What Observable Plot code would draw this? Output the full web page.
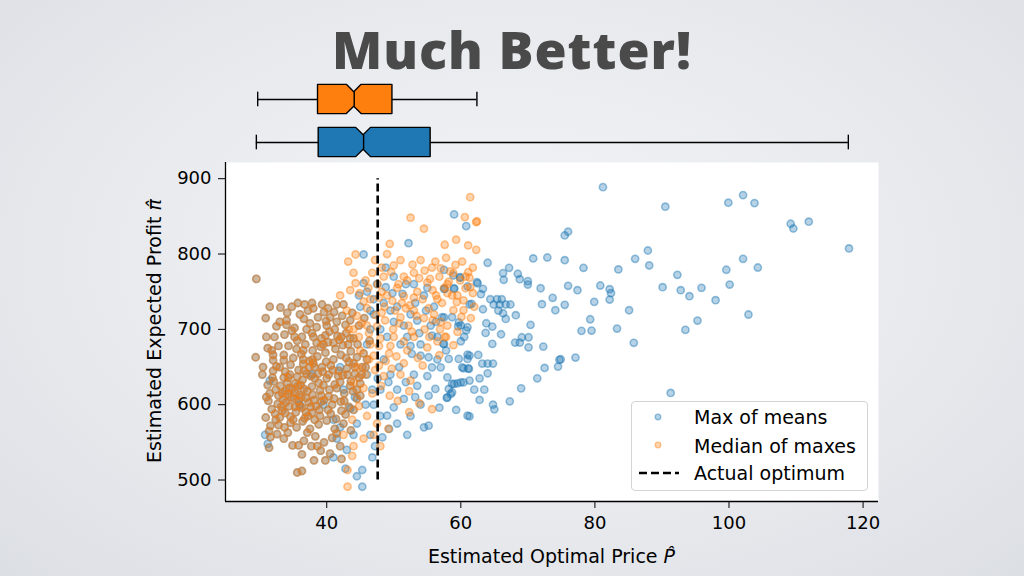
<!DOCTYPE html>
<html>
<head>
<meta charset="utf-8">
<script src="https://cdn.jsdelivr.net/npm/d3@7"></script>
<script src="https://cdn.jsdelivr.net/npm/@observablehq/plot@0.6"></script>
<style>
  html, body { margin: 0; padding: 0; }
  body {
    width: 1024px; height: 576px; overflow: hidden;
    background: radial-gradient(ellipse at 50% 45%, #f3f4f6 0%, #e7e9ed 60%, #dcdfe4 100%);
    font-family: "DejaVu Sans", sans-serif;
  }
  #root { position: relative; width: 1024px; height: 576px; }
  #title {
    position: absolute; left: 0; top: 18px; width: 1024px; text-align: center;
    font-family: "Open Sans", sans-serif; font-weight: 800; font-size: 52px; line-height: 1.2;
    color: #4a4a4a; letter-spacing: 1px;
  }
  #boxes { position: absolute; left: 0; top: 62px; }
  #scatter { position: absolute; left: 0; top: 150px; }
  .axlabel { position: absolute; font-size: 19px; color: #000; white-space: nowrap; line-height: 22px; }
  #xlabel { left: 225px; width: 653px; top: 545px; text-align: center; }
  #ylabel { left: 154px; top: 331px; transform: translate(-50%, -50%) rotate(-90deg); }
  #legend {
    position: absolute; left: 631px; top: 401px; width: 237px; height: 90px; box-sizing: border-box;
    background: rgba(255,255,255,0.85); border: 1px solid #d4d4d4; border-radius: 4px;
  }
  #legend .item { position: absolute; left: 62px; font-size: 19px; line-height: 22px; white-space: nowrap; color: #000; }
  #legend svg { position: absolute; left: 0; top: 0; }
  svg { overflow: visible; }
</style>
</head>
<body>
<div id="root">
  <div id="title">Much Better!</div>
  <div id="boxes"></div>
  <div id="scatter"></div>
  <div class="axlabel" id="xlabel">Estimated Optimal Price <i>P&#770;</i></div>
  <div class="axlabel" id="ylabel">Estimated Expected Profit <i>&#960;&#770;</i></div>
  <div id="legend"></div>
</div>
<script>
// ---------- scales / ticks ----------
const xDomain = [24.9, 122.3];
const yDomain = [471.5, 921.5];
const xTicks = [40, 60, 80, 100, 120];
const yTicks = [500, 600, 700, 800, 900];
const optimumPrice = 47.6;
const optimumSpan = [500, 900];

// ---------- series names / colours ----------
const seriesNames = ["Max of means", "Median of maxes", "Actual optimum"];
const meansColor = "#1f77b4";
const maxesColor = "#ff7f0e";

// ---------- box plot statistics ----------
const boxSeries = ["Median of maxes", "Max of means"];
const boxPositions = [2, 1];
const boxMin = [29.7, 29.5];
const boxQ1 = [38.7, 38.8];
const boxMedian = [44.1, 45.5];
const boxQ3 = [49.8, 55.5];
const boxMax = [62.4, 117.8];
const boxCiLo = [43.0, 44.4];
const boxCiHi = [45.2, 46.6];
const boxFill = [maxesColor, meansColor];

// ---------- scatter points (price, profit) ----------
// points where both estimators coincide (drawn in both series)
const sharedXY = [
[29.5,767],[30.9,715],[33.1,729],[34.1,722],[35.7,735],[36.6,714],[36.7,733],[39.3,733],[41.5,733],[42.5,733],[39.6,723],[41.1,723],[38.0,728],[40.5,716],
[34.0,712],[34.0,706],[37.5,708],[38.5,703],[40.0,705],[41.5,710],[42.8,706],[43.5,712],[35.2,702],[32.5,704],
[33.7,693],[35.6,685],[36.3,690],[37.8,695],[39.2,688],[40.4,697],[41.6,691],[42.9,695],[44.0,688],[38.5,682],[34.8,698],
[32.8,678],[34.3,678],[35.5,674],[36.8,680],[37.9,672],[39.1,677],[40.2,683],[41.3,674],[42.4,679],[43.6,671],[44.6,680],[31.8,672],
[29.4,663],[32.0,666],[33.6,666],[32.0,659],[33.6,659],[35.0,662],[36.2,667],[37.4,658],[38.6,664],[39.8,669],[41.0,660],[42.1,666],[43.3,657],[44.5,663],[45.5,668],
[32.5,651],[34.6,653],[33.8,644],[30.4,640],[35.8,646],[37.0,641],[38.2,650],[39.4,644],[40.6,652],[41.8,645],[43.0,648],[44.2,641],[36.5,654],[45.3,650],
[31.9,636],[32.1,631],[33.6,636],[34.3,636],[35.3,628],[36.4,633],[37.6,638],[38.8,629],[40.0,635],[41.2,627],[42.4,639],[43.6,631],[44.8,636],[39.5,626],
[31.5,615],[32.8,612],[33.8,618],[34.7,610],[35.3,616],[36.6,621],[37.9,613],[39.0,619],[40.3,611],[41.5,622],[42.6,615],[43.9,618],[45.0,612],
[31.3,605],[32.7,601],[33.5,607],[34.4,598],[35.8,605],[36.3,596],[37.3,603],[38.4,598],[39.6,606],[40.8,600],[42.1,604],[43.3,597],[44.5,608],
[30.9,583],[32.3,588],[33.4,592],[34.6,584],[35.4,590],[36.7,582],[37.8,589],[39.0,585],[40.2,593],[41.4,581],[42.8,587],[44.0,593],
[31.6,572],[32.8,573],[31.4,565],[34.6,576],[35.5,570],[36.4,578],[37.5,568],[38.8,574],[40.0,579],[41.2,568],[42.5,575],[43.6,566],
[32.6,561],[31.6,557],[31.4,543],[34.9,546],[35.8,546],[37.1,563],[36.6,552],[38.3,558],[39.6,550],[40.8,556],[42.0,545],[39.1,539],[41.5,562],
[36.3,534],[35.6,510],[36.3,512],[38.1,526],[39.8,526],[40.5,535],[42.2,528],
[32.4,620],[33.1,625],[33.9,603],[34.1,629],[34.9,621],[35.1,608],[35.9,613],[36.1,626],[36.9,609],[37.1,618],[37.8,624],[38.1,606],[38.7,641],[39.2,612],
[33.2,597],[33.8,589],[34.2,614],[35.6,637],[36.6,645],[37.4,650],[38.2,635],[39.9,657],[40.9,646],[41.7,638],[42.9,662],[40.4,620],[41.1,608],[38.9,593],
[37.2,585],[35.0,580],[33.0,583],[36.0,598],[34.5,640],[33.0,650],[32.0,645],[31.2,626],[31.0,610],[31.8,594],[37.9,660],[36.5,672],[39.5,680],[41.9,686],
[43.2,680],[44.2,650],[43.5,625],[42.6,605],[44.5,620],[45.2,640],[46.0,660],[46.4,685],
[36.0,720],[37.2,725],[38.7,716],[39.9,711],[41.2,700],[42.3,718],[43.8,722],[44.8,705],[45.6,715],[37.0,700],[38.0,690],[39.8,692],[41.0,682],
[42.2,690],[43.5,688],[35.2,690],[36.5,660],[38.0,655],[39.3,650],[40.3,640],[42.0,630],[43.1,640],[44.0,655],[45.0,628],[45.8,650],[32.2,690],
[31.0,690],[30.5,650],[31.2,675],[33.0,710],[31.5,730],[34.8,730],[37.8,735],[40.2,728],[35.7,625],[34.4,622],[33.4,615],[36.2,610],[37.6,597],
[39.2,604],[36.9,590],[35.3,597],[32.4,580],[33.7,570],[38.2,580],[40.6,588],[42.2,592],[37.7,545],[38.6,545],[33.6,555],[34.2,563]
];

// "Max of means" only
const meansOnlyXY = [
[81.2,888.8],[90.5,862.8],[99.9,868.1],[102.1,878.2],[103.8,867.6],[109.2,840.2],[109.6,833.9],[111.9,842.9],[117.9,807.4],
[75.5,824.7],[76.0,829.6],[75.5,791.8],[78.3,781.7],[83.5,779.5],[86.0,793.7],[87.9,804.7],[88.1,784.8],[76.0,757.8],[77.4,752.0],
[80.8,758.2],[82.2,753.3],[82.4,748.0],[82.2,739.6],[79.9,736.5],[75.5,732.6],[79.3,713.4],[78.0,698.0],[79.5,698.4],[83.3,701.1],
[85.1,725.4],[85.8,682.1],[77.1,662.5],[74.9,660.3],[90.1,756.0],[92.3,772.4],[92.8,752.0],[94.1,744.0],[95.9,755.1],[93.5,699.3],
[95.3,711.7],[98.0,738.7],[99.6,779.1],[102.1,793.7],[104.3,782.1],[100.1,759.5],[102.9,719.7],[91.3,615.6],
[59.0,852.6],[60.8,837],[64.0,788.4],[67.2,781.7],[66.3,774.6],[66.4,765.8],[68.5,773.8],[68.8,766.6],[70.0,764],[70.0,759.5],
[70.8,794.1],[72.9,795.4],[71.9,754.6],[73.7,741.9],[72.1,733.4],[74.1,725.4],[62.5,761],[63.3,753.8],[63.0,746.7],[64.4,740],
[65.4,740],[66.1,740],[64.9,733],[65.8,733],[66.7,733],[67.4,733],[63.3,726.7],[65.6,725],[66.3,721.4],[66.7,713.9],[68.2,718.8],
[63.8,708.1],[64.7,703.7],[63.7,695.3],[66.0,693.5],[70.4,706],[69.1,689.5],[70.1,689.5],[68.8,682.5],[68.1,682.5],[70.1,676.2],
[64.7,680.7],[72.3,677.1],[62.6,666.1],[63.2,654.6],[64.0,654.6],[64.8,654.6],[64.0,641.7],[72.5,648.8],[74.5,650.6],[74.7,659.5],
[71.4,635],[69.0,621.7],[67.3,604.5],[62.8,606.3],[64.8,600],[65.0,593.8],[61.3,584.5],[61.3,632],[60.4,629.7],[59.5,628.4],
[58.7,627.5],[58.2,620.9],[58.5,614.3],[57.9,609],[60.4,648.3],[61.1,648.3],[61.0,666.5],[61.3,665.2],
[60.0,684.2],[60.5,690],[60.8,698.6],[59.6,703.9],[60.0,705.2],[61.3,733],[61.6,733.9],[57.4,680.7],[57.5,716],[57.5,753.8],
[59.9,769.2],[59.0,754.6],[62.4,762.6],
[57.5,779],[58.9,771.5],[59.9,768.5],[57.6,753.8],[59.0,753.8],[61.0,756.9],[48.8,756],[51.3,747.2],[52.2,814.4],[51.5,705],
[53.5,711.7],[55.7,691.8],[57.5,680.7],[58.7,716.1],[57.2,716.1],[59.7,709.4],[61.0,702.8],[52.7,667.4],[54.0,665.2],[55.2,663],
[58.2,660.8],[59.7,660.8],[61.0,660.8],[55.7,649.6],[57.0,649.6],[58.0,636.4],[59.0,627.6],[60.0,629.7],[60.2,649.6],[61.2,647.5],
[56.2,621],[55.2,612],[58.0,609.8],[58.7,616.4],[61.0,585.4],[55.2,572.2],[49.0,585.4],[49.3,567.8],[48.3,556.6],[50.0,596.5],[51.5,607.6],
[45.5,799.4],[45.5,761.3],[45.3,513.3],[45.3,491.1],[46.0,750],[47.0,740],[44.0,560],[42.0,570],[41.5,555],[43.0,540],
[46.5,560],[47.2,545],[46.8,530],[44.5,575],[47.0,600],[48.0,620],[46.0,640],[48.5,660],[49.5,640],[50.5,620],
[49.0,690],[50.0,710],[48.0,700],[47.0,720],[46.5,700],[49.5,725],[51.0,680],[52.0,690],[53.0,640],[54.0,680],
[52.5,720],[50.0,770],[53.0,760],[54.5,745],[56.0,730],[55.5,705],[56.5,690],[54.0,600],[52.5,585],[53.5,625],
[31.5,632],[30.8,560],[31.2,548],[36.0,600],[37.8,640],[39.5,600],[41.0,580],[42.5,620],[43.5,595],[44.2,610],
[42.0,650],[41.0,530],[42.8,515],[44.5,505],
[48.5,735],[49.8,748],[50.5,730],[51.8,760],[53.2,735],[54.8,725],[55.0,755],[56.3,710],[53.8,695],[52.5,678],[50.8,650],[49.2,630],
[51.8,630],[53.2,610],[55.0,638],[56.5,660],[57.8,672],[54.5,570],[52.0,560],[50.5,575],[56.8,596],[59.3,593],[62.0,620],[62.8,635],
[63.5,620],[48.0,585],[46.8,620],[45.8,600],[47.6,635],[46.0,680],[46.5,725],[45.0,730],[44.8,745],[47.5,760],[48.8,782]
];

// "Median of maxes" only
const maxesOnlyXY = [
[61.4,875.5],[60.6,849],[62.3,842.3],[62.4,843.5],[57.6,812.3],[59.3,819],[61.1,811.4],[62.3,805.6],[59.2,785.7],[52.5,848.2],
[54.5,833.6],[49.4,813.6],[44.3,799.4],[44.3,761.3],[43.1,513.3],[43.1,491.1],
[42.0,745],[43.5,752],[44.9,748],[46.2,755],[47.8,742],[45.5,737],[43.0,725],[44.5,718],[46.0,728],[47.3,719],[48.6,730],
[49.8,738],[48.2,750],[50.5,755],[51.5,744],[52.4,732],[53.5,750],[54.3,740],[55.2,728],[56.3,745],[57.2,735],[53.0,775],
[50.0,785],[48.5,770],[46.8,775],[47.2,792],[49.0,800],
[44.0,700],[45.2,708],[46.3,695],[47.5,704],[48.7,712],[49.9,700],[51.0,716],[52.2,705],[53.4,718],[54.6,700],[55.8,712],
[56.9,700],[58.0,705],[50.2,725],[51.8,728],[53.0,690],[51.5,684],[49.5,678],[48.0,688],[46.5,680],[45.0,672],[47.0,665],
[48.8,658],[50.4,664],[52.0,672],[53.6,662],[55.0,676],[56.5,684],[57.8,690],[54.3,652],
[44.6,650],[45.8,640],[47.2,646],[48.5,638],[49.7,648],[51.0,640],[52.5,632],[44.0,630],[45.5,622],[46.8,615],[48.1,625],
[49.4,612],[50.6,605],[52.3,618],[53.8,602],[55.7,594],[52.3,590],[49.2,568],[47.5,575],[46.0,585],[44.8,598],[43.8,580],
[42.5,560],[44.0,545],[45.5,555],[47.0,560],[48.0,545],[43.8,532],
[58.9,774.6],[61.1,775.9],[61.3,768.5],[58.2,763.5],[60.7,754.6],[61.4,756],[58.7,745],[59.4,736.3],[60.4,738.5],[58.9,725.4],
[60.4,725.4],[60.1,716.6],[59.5,696.7],[57.6,690],[58.9,679],[56.8,665.7],
[54.6,778],[55.7,782],[57.0,781],[58.4,777],[51.5,770],[52.0,765],[55.4,767],[55.0,762],[58.0,760],[59.9,765],[60.7,770],
[48.2,782],[49.6,776],[51.0,792],[52.8,786],[54.0,792],[56.2,790],[57.8,795],[60.2,790],[61.8,782],[50.7,760],[53.8,768],[56.8,770],
[57.5,755],[55.8,752],[53.0,742],[51.2,735],[49.0,745],[47.6,760],[45.8,765],[44.0,775],[43.2,790],[46.5,740],[48.2,722],[50.8,708],
[53.0,725],[54.5,715],[56.0,720],[57.0,710],[55.3,690],[52.7,697],[50.0,690],[47.8,678],[46.0,705],[44.8,690],[43.3,700],[49.3,668],
[51.5,655],[47.8,652],[46.3,660],[56.5,740],[58.0,748],[59.5,745],[61.8,748],[62.0,730],[61.5,715]
];

// ---------- build series ----------
const meansPts = sharedXY.concat(meansOnlyXY).map(([x, y]) => ({x, y}));
const maxesPts = sharedXY.concat(maxesOnlyXY).map(([x, y]) => ({x, y}));

// ---------- box plot ----------
const boxWidth = 0.68;
const half = boxWidth / 2;
const boxRows = boxSeries.map((s, i) => ({
  series: s, pos: boxPositions[i], min: boxMin[i], q1: boxQ1[i], med: boxMedian[i],
  q3: boxQ3[i], max: boxMax[i], lo: boxCiLo[i], hi: boxCiHi[i], fill: boxFill[i]
}));
function outline(b) {
  return [
    {x: b.q1, y1: b.pos - half, y2: b.pos + half},
    {x: b.lo, y1: b.pos - half, y2: b.pos + half},
    {x: b.med, y1: b.pos - half / 2, y2: b.pos + half / 2},
    {x: b.hi, y1: b.pos - half, y2: b.pos + half},
    {x: b.q3, y1: b.pos - half, y2: b.pos + half}
  ];
}
const boxMarks = [];
for (const b of boxRows) {
  boxMarks.push(Plot.ruleY([b], {y: "pos", x1: "min", x2: "q1", stroke: "black", strokeWidth: 1.4}));
  boxMarks.push(Plot.ruleY([b], {y: "pos", x1: "q3", x2: "max", stroke: "black", strokeWidth: 1.4}));
  boxMarks.push(Plot.ruleX([b], {x: "min", y1: d => d.pos - half / 2, y2: d => d.pos + half / 2, stroke: "black", strokeWidth: 1.4}));
  boxMarks.push(Plot.ruleX([b], {x: "max", y1: d => d.pos - half / 2, y2: d => d.pos + half / 2, stroke: "black", strokeWidth: 1.4}));
  boxMarks.push(Plot.areaY(outline(b), {x: "x", y1: "y1", y2: "y2", fill: b.fill, stroke: "black", strokeWidth: 1.4}));
  boxMarks.push(Plot.ruleX([b], {x: "med", y1: d => d.pos - half / 2, y2: d => d.pos + half / 2, stroke: "black", strokeWidth: 1.4}));
}
const boxPlot = Plot.plot({
  width: 1024, height: 100,
  marginLeft: 225, marginRight: 146, marginTop: 0, marginBottom: 0,
  x: {domain: xDomain, axis: null},
  y: {domain: [0.535, 2.86], axis: null},
  style: {background: "transparent", overflow: "visible"},
  marks: boxMarks
});
document.getElementById("boxes").appendChild(boxPlot);

// ---------- scatter ----------
const dotStyle = c => ({x: "x", y: "y", r: 3.6, fill: c, fillOpacity: 0.33, stroke: c, strokeOpacity: 0.45, strokeWidth: 1.6});
const scatter = Plot.plot({
  width: 1024, height: 426,
  marginLeft: 225, marginRight: 146, marginTop: 12, marginBottom: 75,
  x: {domain: xDomain},
  y: {domain: yDomain},
  style: {background: "transparent", fontFamily: "DejaVu Sans", fontSize: "18px", color: "black", overflow: "visible"},
  marks: [
    Plot.frame({fill: "white", stroke: "none"}),
    Plot.dot(meansPts, dotStyle(meansColor)),
    Plot.dot(maxesPts, dotStyle(maxesColor)),
    Plot.ruleX([optimumPrice], {y1: () => optimumSpan[0], y2: () => optimumSpan[1], stroke: "black", strokeWidth: 2.6, strokeDasharray: "8,4"}),
    Plot.ruleX([xDomain[0]], {stroke: "black", strokeWidth: 1.3}),
    Plot.ruleY([yDomain[0]], {stroke: "black", strokeWidth: 1.3}),
    Plot.axisX({ticks: xTicks, tickSize: 7, tickPadding: 8, label: null, fontSize: 18}),
    Plot.axisY({ticks: yTicks, tickSize: 7, tickPadding: 7, label: null, fontSize: 18})
  ]
});
document.getElementById("scatter").appendChild(scatter);

// ---------- legend ----------
const legend = document.getElementById("legend");
const rowsTop = [4, 33, 60];
const ns = "http://www.w3.org/2000/svg";
const lsvg = document.createElementNS(ns, "svg");
lsvg.setAttribute("width", 60); lsvg.setAttribute("height", 88);
[[meansColor, 15], [maxesColor, 43]].forEach(([c, cy]) => {
  const circ = document.createElementNS(ns, "circle");
  circ.setAttribute("cx", 26); circ.setAttribute("cy", cy); circ.setAttribute("r", 2.8);
  circ.setAttribute("fill", c); circ.setAttribute("fill-opacity", 0.33);
  circ.setAttribute("stroke", c); circ.setAttribute("stroke-opacity", 0.45); circ.setAttribute("stroke-width", 1.3);
  lsvg.appendChild(circ);
});
const ln = document.createElementNS(ns, "line");
ln.setAttribute("x1", 7); ln.setAttribute("x2", 47); ln.setAttribute("y1", 71); ln.setAttribute("y2", 71);
ln.setAttribute("stroke", "black"); ln.setAttribute("stroke-width", 2.6); ln.setAttribute("stroke-dasharray", "8,4");
lsvg.appendChild(ln);
legend.appendChild(lsvg);
seriesNames.forEach((name, i) => {
  const d = document.createElement("div");
  d.className = "item"; d.style.top = rowsTop[i] + "px"; d.textContent = name;
  legend.appendChild(d);
});
</script>
</body>
</html>
